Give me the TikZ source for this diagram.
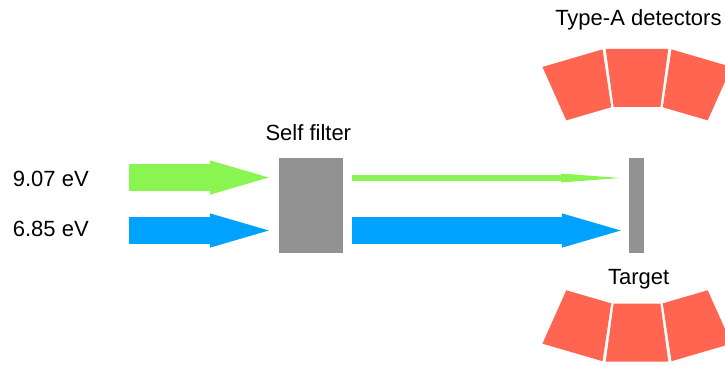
\documentclass[tikz,border=0pt]{standalone}
\usepackage{fontspec}
\setmainfont{Liberation Sans}
\usetikzlibrary{arrows.meta}
\definecolor{beamgreen}{RGB}{138,245,80}
\definecolor{beamblue}{RGB}{0,162,255}
\definecolor{slabgray}{RGB}{146,146,146}
\definecolor{detred}{RGB}{255,101,80}
\begin{document}
\begin{tikzpicture}[x=1pt,y=-1pt,
  label/.style={font=\fontsize{22}{26}\selectfont, inner sep=0pt},
  slab/.style={fill=slabgray, draw=none, inner sep=0pt, minimum height=95pt},
  beam/.style n args={4}{draw=#1, line width=#2,
    -{Triangle[length=#4, width=#3, line width=0pt]}},
  detector/.style={fill=detred, draw=none}]
\useasboundingbox (0,0) rectangle (725,365);
\clip (0,0) rectangle (725,365);

% filter slab and target foil
\node[slab, minimum width=63.7pt] (filter) at (310.85,205.2) {};
\node[slab, minimum width=15.3pt] (target) at (636.65,205.2) {};

% beam sources
\coordinate (gsrc) at (129,177.5);
\coordinate (bsrc) at (129,230.5);

% incoming beams
\draw[beam={beamgreen}{26.6pt}{34.4pt}{59pt}, shorten >=10pt]
  (gsrc) -- (gsrc -| filter.west);
\draw[beam={beamblue}{27.6pt}{34.4pt}{59pt}, shorten >=10pt]
  (bsrc) -- (bsrc -| filter.west);

% transmitted beams
\draw[beam={beamgreen}{5.7pt}{9pt}{59pt}, shorten <=9pt, shorten >=9pt]
  ([yshift=-0.5pt]gsrc -| filter.east) -- ([yshift=-0.5pt]gsrc -| target.west);
\draw[beam={beamblue}{27.6pt}{34.4pt}{59pt}, shorten <=9pt, shorten >=8pt]
  (bsrc -| filter.east) -- (bsrc -| target.west);

% detector arcs above and below the target
\begin{scope}[shift={(637,278.8)}]
  \foreach \a in {65.95,82.25,98.55}
    \fill[detector] (\a:173.5pt) -- (\a:232pt) -- (\a+15.5:232pt)
      -- (\a+15.5:173.5pt) -- cycle;
\end{scope}
\begin{scope}[shift={(637,131.8)}]
  \foreach \a in {245.95,262.25,278.55}
    \fill[detector] (\a:173.5pt) -- (\a:232pt) -- (\a+15.5:232pt)
      -- (\a+15.5:173.5pt) -- cycle;
\end{scope}

% labels
\node[label, anchor=base west] (lgreen) at (12.7,186) {9.07 eV};
\node[label, anchor=base west] (lblue) at (12.7,236) {6.85 eV};
\node[label, anchor=base] (lfilter) at (308.3,140) {Self filter};
\node[label, anchor=base] (ltarget) at (638.7,284) {Target};
\node[label, anchor=base] (ldet) at (638.4,25) {Type-A detectors};
\end{tikzpicture}
\end{document}
